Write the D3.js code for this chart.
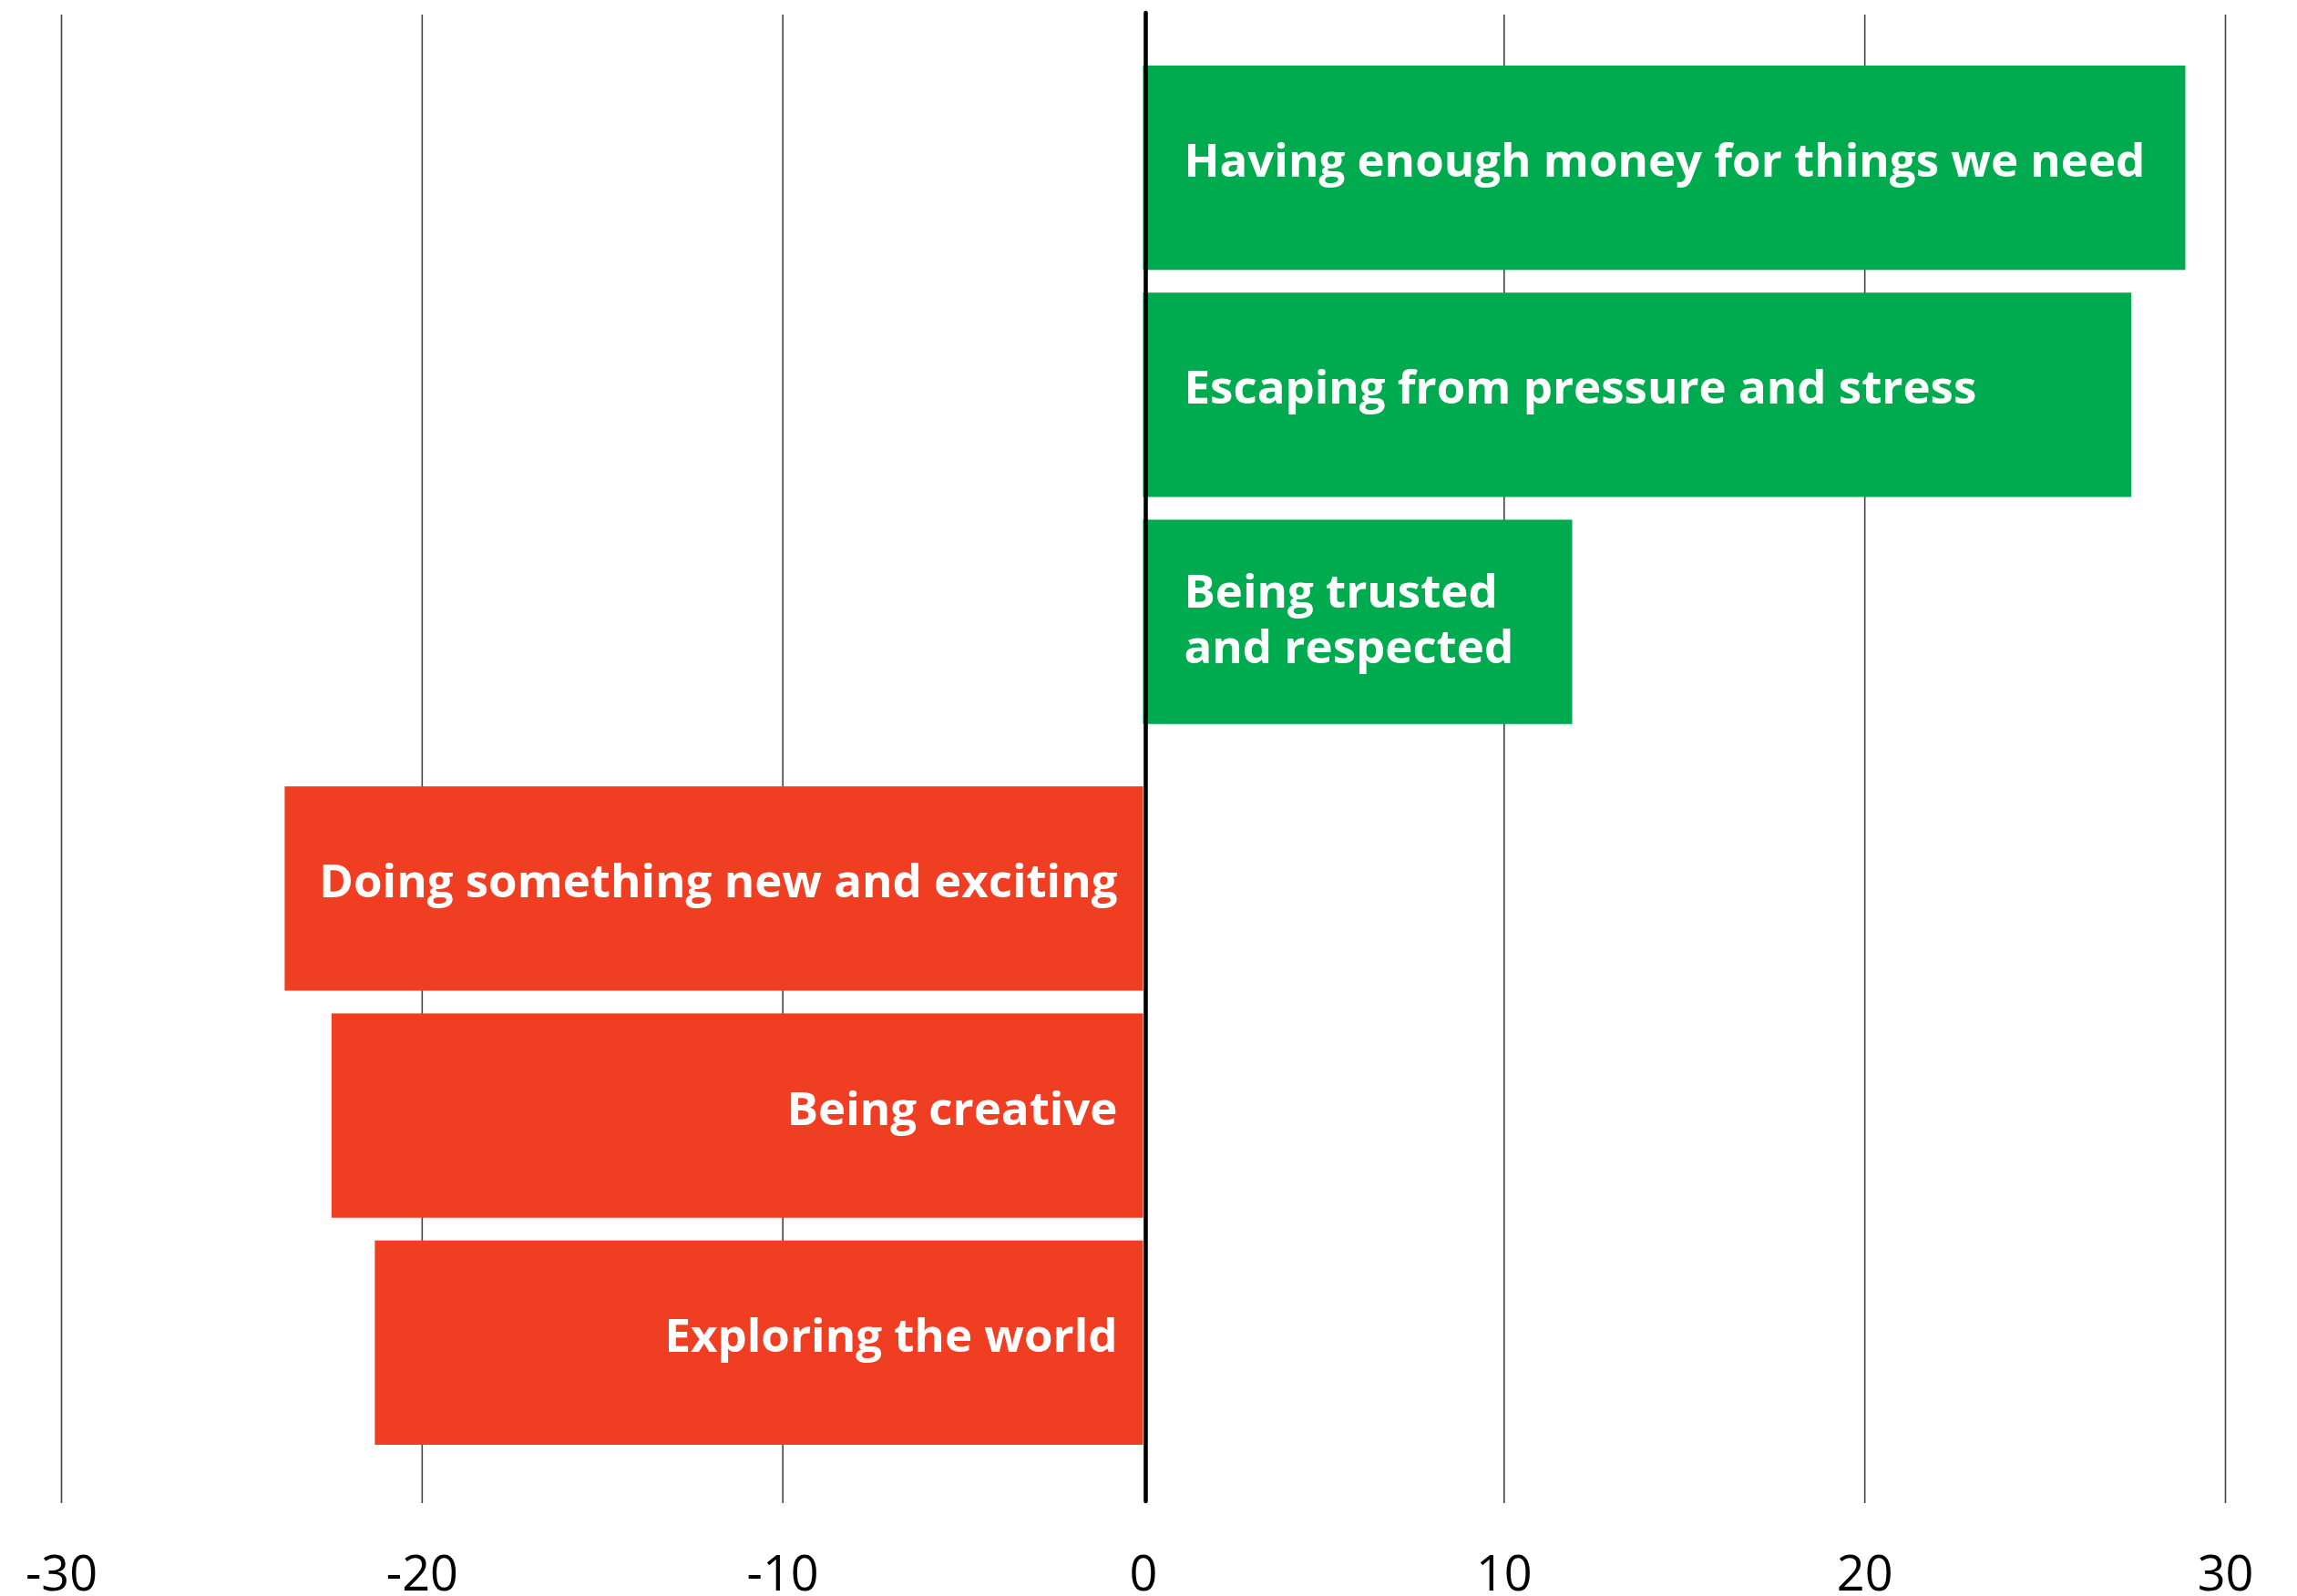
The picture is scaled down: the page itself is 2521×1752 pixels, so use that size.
<!DOCTYPE html>
<html>
<head>
<meta charset="utf-8">
<script src="https://cdn.jsdelivr.net/npm/d3@7"></script>
<style>
  html, body { margin: 0; padding: 0; background: #ffffff; }
  svg { display: block; }
</style>
</head>
<body>
<div id="chart"></div>
<script>
// ---- data ----
const categories = [
  "Having enough money for things we need",
  "Escaping from pressure and stress",
  "Being trusted and respected",
  "Doing something new and exciting",
  "Being creative",
  "Exploring the world"
];
const labelLines = [
  ["Having enough money for things we need"],
  ["Escaping from pressure and stress"],
  ["Being trusted", "and respected"],
  ["Doing something new and exciting"],
  ["Being creative"],
  ["Exploring the world"]
];
const values = [28.9, 27.4, 11.9, -23.8, -22.5, -21.3];
const tickValues = [-30, -20, -10, 0, 10, 20, 30];

// ---- layout ----
const W = 2521, H = 1752;
const plotTop = 16, plotBottom = 1650;
const barsTop = 72, groupGap = 43.5;
const posColor = "#00aa4e", negColor = "#f03e23";
const fontFamily = "'Open Sans', 'Noto Sans', sans-serif";

const svg = d3.select("#chart").append("svg")
  .attr("width", W).attr("height", H)
  .attr("viewBox", `0 0 ${W} ${H}`);

const x = d3.scaleLinear().domain([-30, 30]).range([67, 2442]);
const y = d3.scaleBand().domain(categories)
  .range([barsTop, 1586 - groupGap])
  .paddingInner(0.1).paddingOuter(0);

const yPos = (c, i) => y(c) + (values[i] < 0 ? groupGap : 0);

// gridlines + tick labels via axis
const axis = d3.axisBottom(x)
  .tickValues(tickValues)
  .tickSize(-(plotBottom - plotTop))
  .tickPadding(57.7)
  .tickFormat(d => String(d));

const gAxis = svg.append("g")
  .attr("transform", `translate(0,${plotBottom})`)
  .call(axis);
gAxis.select(".domain").remove();
gAxis.selectAll(".tick line")
  .attr("stroke", "#444")
  .attr("stroke-width", 1.6);
gAxis.selectAll(".tick text")
  .attr("fill", "#000")
  .style("font-family", fontFamily)
  .style("font-size", "54px")
  .style("font-weight", 400);
gAxis.selectAll(".tick").filter(d => d === 0).select("line").remove();

// bars
const bars = svg.append("g");
bars.selectAll("rect")
  .data(categories)
  .join("rect")
  .attr("x", (c, i) => Math.min(x(0), x(values[i])))
  .attr("y", (c, i) => yPos(c, i))
  .attr("width", (c, i) => Math.abs(x(values[i]) - x(0)))
  .attr("height", y.bandwidth())
  .attr("fill", (c, i) => values[i] >= 0 ? posColor : negColor);

// labels
const lineGap = 61;
const labels = svg.append("g")
  .style("font-family", fontFamily)
  .style("font-size", "51px")
  .style("font-weight", 700)
  .attr("fill", "#ffffff");

categories.forEach((c, i) => {
  const lines = labelLines[i];
  const n = lines.length;
  const center = yPos(c, i) + y.bandwidth() / 2;
  const pos = values[i] >= 0;
  lines.forEach((ln, j) => {
    labels.append("text")
      .attr("text-anchor", pos ? "start" : "end")
      .attr("x", pos ? x(0) + 45 : x(0) - 28)
      .attr("y", center + 10 + (j - (n - 1) / 2) * lineGap + (n - 1) * 5)
      .text(ln);
  });
});

// zero line
svg.append("line")
  .attr("x1", x(0) + 3).attr("x2", x(0) + 3)
  .attr("y1", 14).attr("y2", 1648)
  .attr("stroke", "#000")
  .attr("stroke-width", 4.6)
  .attr("stroke-linecap", "round");
</script>
</body>
</html>
